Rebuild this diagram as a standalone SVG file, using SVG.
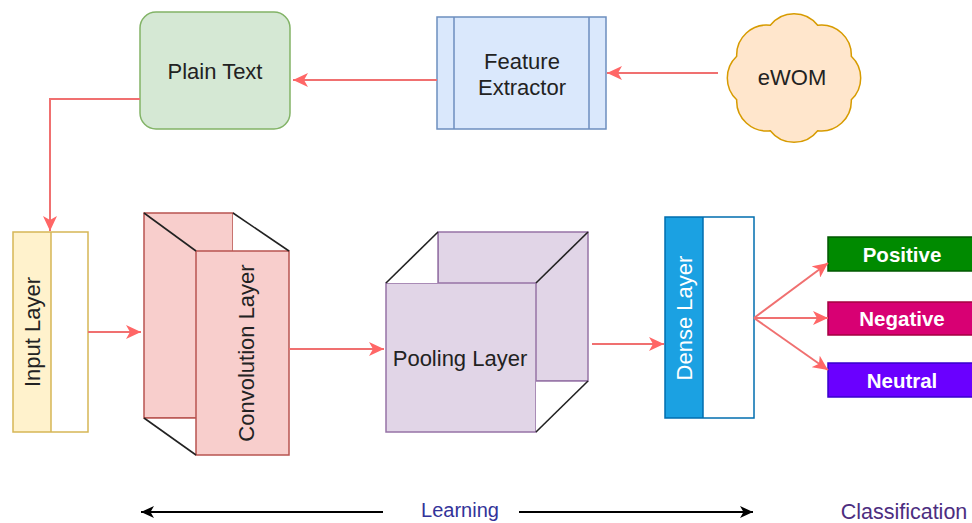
<svg xmlns="http://www.w3.org/2000/svg" width="972" height="523" viewBox="0 0 972 523">
<style>
.t{font-family:"Liberation Sans",Arial,sans-serif;font-size:22px;fill:#222;text-anchor:middle;dominant-baseline:central}
.b{font-family:"Liberation Sans",Arial,sans-serif;font-size:20.5px;font-weight:bold;fill:#ffffff;text-anchor:middle;dominant-baseline:central}
.c{fill:none;stroke:#f07070;stroke-width:2}
.k{fill:none;stroke:#000;stroke-width:2}
.edge{fill:none;stroke:#222;stroke-width:1.6}
</style>
<defs>
<marker id="ar" markerUnits="userSpaceOnUse" markerWidth="16" markerHeight="14" refX="15" refY="7" orient="auto" viewBox="0 0 16 14">
<path d="M0,0 L15,7 L0,14 L4,7 Z" fill="#ff6666"/>
</marker>
<marker id="ak" markerUnits="userSpaceOnUse" markerWidth="14" markerHeight="12" refX="13" refY="6" orient="auto" viewBox="0 0 14 12">
<path d="M0,0 L13,6 L0,12 L3.5,6 Z" fill="#000"/>
</marker>
</defs>

<g id="plain-text">
<rect x="140" y="12" width="150" height="117" rx="16" fill="#d5e8d4" stroke="#82b366" stroke-width="1.5"/>
<text class="t" x="215" y="71">Plain Text</text>
</g>

<g id="feature-extractor">
<rect x="437" y="17" width="169" height="112" fill="#dae8fc" stroke="#6c8ebf" stroke-width="1.5"/>
<line x1="454" y1="17" x2="454" y2="129" stroke="#6c8ebf" stroke-width="1.5"/>
<line x1="589" y1="17" x2="589" y2="129" stroke="#6c8ebf" stroke-width="1.5"/>
<text class="t" x="522" y="61">Feature</text>
<text class="t" x="522" y="87">Extractor</text>
</g>

<g id="ewom">
<path d="M770.3,25.3 A30,30 0 0 1 817.7,25.3 A30,30 0 0 1 851.3,56.2 A30,30 0 0 1 851.3,99.8 A30,30 0 0 1 817.7,130.7 A30,30 0 0 1 770.3,130.7 A30,30 0 0 1 736.7,99.8 A30,30 0 0 1 736.7,56.2 A30,30 0 0 1 770.3,25.3 Z" fill="#ffe6cc" stroke="#d79b00" stroke-width="1.5"/>
<text class="t" x="792" y="77">eWOM</text>
</g>

<g id="input-layer">
<rect x="13" y="232" width="38" height="200" fill="#fff2cc"/>
<rect x="51" y="232" width="37" height="200" fill="#ffffff"/>
<rect x="13" y="232" width="75" height="200" fill="none" stroke="#d6b656" stroke-width="1.5"/>
<line x1="51" y1="232" x2="51" y2="432" stroke="#d6b656" stroke-width="1.5"/>
<text class="t" transform="translate(32,332) rotate(-90)">Input Layer</text>
</g>

<g id="convolution-layer">
<rect x="144" y="213" width="89" height="205" fill="#f8cecc" stroke="#b85450" stroke-width="1.5"/>
<path d="M233,213 L289,251 L233,251 Z" fill="#ffffff"/>
<path d="M144,418 L196,418 L196,455 Z" fill="#ffffff"/>
<line x1="144" y1="418" x2="196" y2="418" stroke="#b85450" stroke-width="1.5"/>
<rect x="196" y="251" width="93" height="204" fill="#f8cecc" stroke="#b85450" stroke-width="1.5"/>
<line class="edge" x1="144" y1="213" x2="196" y2="251"/>
<line class="edge" x1="233" y1="213" x2="289" y2="251"/>
<line class="edge" x1="144" y1="418" x2="196" y2="455"/>
<text class="t" transform="translate(246,353) rotate(-90)">Convolution Layer</text>
</g>

<g id="pooling-layer">
<rect x="438" y="232" width="150" height="149" fill="#e1d5e7" stroke="#9673a6" stroke-width="1.5"/>
<rect x="386" y="283" width="150" height="149" fill="#e1d5e7" stroke="#9673a6" stroke-width="1.5"/>
<path d="M386,283 L438,232 L438,283 Z" fill="#ffffff"/>
<path d="M536,432 L588,381 L536,381 Z" fill="#ffffff"/>
<line x1="438" y1="232" x2="438" y2="283" stroke="#9673a6" stroke-width="1.5"/>
<line x1="536" y1="381" x2="588" y2="381" stroke="#9673a6" stroke-width="1.5"/>
<line class="edge" x1="386" y1="283" x2="438" y2="232"/>
<line class="edge" x1="536" y1="283" x2="588" y2="232"/>
<line class="edge" x1="536" y1="432" x2="588" y2="381"/>
<text class="t" x="460" y="358">Pooling Layer</text>
</g>

<g id="dense-layer">
<rect x="665" y="217" width="38" height="201" fill="#1ba1e2"/>
<rect x="703" y="217" width="51" height="201" fill="#ffffff"/>
<rect x="665" y="217" width="89" height="201" fill="none" stroke="#006eaf" stroke-width="1.5"/>
<line x1="703" y1="217" x2="703" y2="418" stroke="#006eaf" stroke-width="1.5"/>
<text class="t" style="fill:#ffffff" transform="translate(684,318) rotate(-90)">Dense Layer</text>
</g>

<g id="positive">
<rect x="828" y="237" width="148" height="34" fill="#008a00" stroke="#005700" stroke-width="1.5"/>
<text class="b" x="902" y="254">Positive</text>
</g>
<g id="negative">
<rect x="828" y="302" width="148" height="33" fill="#d80073" stroke="#a50040" stroke-width="1.5"/>
<text class="b" x="902" y="318">Negative</text>
</g>
<g id="neutral">
<rect x="828" y="363" width="148" height="34" fill="#6a00ff" stroke="#3700cc" stroke-width="1.5"/>
<text class="b" x="902" y="380">Neutral</text>
</g>

<g id="connectors">
<line class="c" x1="718" y1="73" x2="607" y2="73" marker-end="url(#ar)"/>
<line class="c" x1="437" y1="80" x2="293" y2="80" marker-end="url(#ar)"/>
<polyline class="c" points="140,99 50,99 50,231" marker-end="url(#ar)"/>
<line class="c" x1="88" y1="332" x2="141" y2="332" marker-end="url(#ar)"/>
<line class="c" x1="289" y1="349" x2="384" y2="349" marker-end="url(#ar)"/>
<line class="c" x1="592" y1="344" x2="664" y2="344" marker-end="url(#ar)"/>
<line class="c" x1="754" y1="318" x2="828" y2="263" marker-end="url(#ar)"/>
<line class="c" x1="754" y1="318" x2="828" y2="318" marker-end="url(#ar)"/>
<line class="c" x1="754" y1="318" x2="828" y2="370" marker-end="url(#ar)"/>
<line class="k" x1="383" y1="512" x2="141" y2="512" marker-end="url(#ak)"/>
<line class="k" x1="519" y1="512" x2="753" y2="512" marker-end="url(#ak)"/>
</g>

<g id="labels">
<text class="t" style="fill:#333399;font-size:20px" x="460" y="510">Learning</text>
<text class="t" style="fill:#4c2d80;font-size:21.5px" x="904" y="512">Classification</text>
</g>
</svg>
